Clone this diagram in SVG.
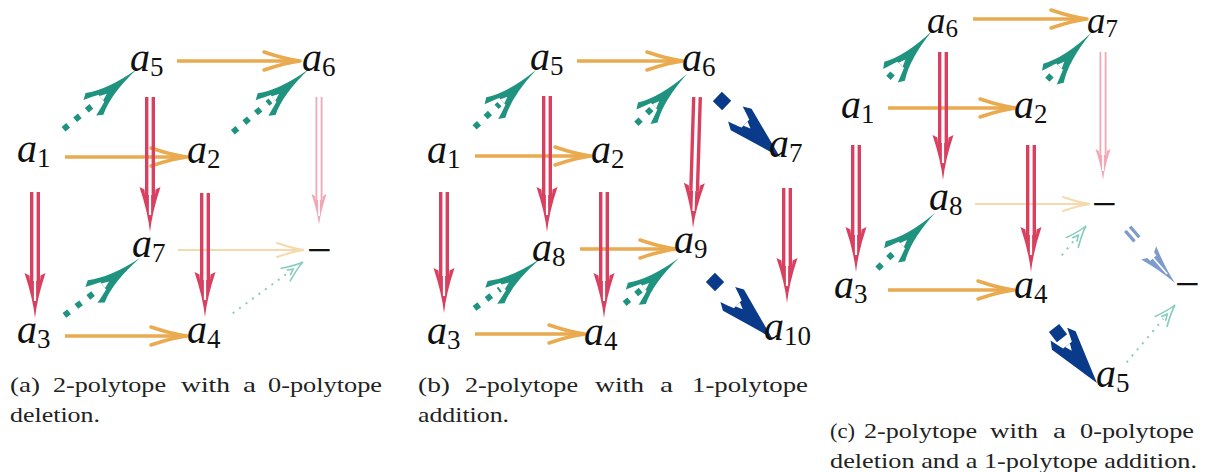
<svg xmlns="http://www.w3.org/2000/svg" xmlns:xlink="http://www.w3.org/1999/xlink" width="1207" height="472" viewBox="0 0 1207 472">
<style>
.o{stroke:#E9AA50;stroke-width:3.5;fill:none}
.lo{stroke:#F7D9AE;stroke-width:2;fill:none}
.r{stroke:#D94060;stroke-width:3.4;fill:none}
.p{stroke:#F2A7B6;stroke-width:1.8;fill:none}
.t{stroke:#1F937F;stroke-width:6;stroke-dasharray:6 9;fill:none}
.lt{stroke:#86CDBE;stroke-width:2;stroke-dasharray:2 6;fill:none}
.lb{stroke:#7F9BCC;stroke-width:3.2;fill:none}
.bsq{fill:#0A3A8A}
.m{font-style:italic;font-size:40px;fill:#111}
.mt{font-style:italic;font-size:37px;fill:#111}
.s{font-style:normal;font-size:27px}
.st{font-style:normal;font-size:25px}
.d{font-size:44px;fill:#111}
.cap{font-size:22px;fill:#222}
</style>
<defs>
<g id="hO"><path d="M-36,-9 Q-14,-1.6 0,0 Q-14,1.6 -36,9" fill="none" stroke="#E9AA50" stroke-width="3.5" stroke-linecap="round" stroke-linejoin="round"/></g>
<g id="hLO"><path d="M-27,-7 Q-10,-1.2 0,0 Q-10,1.2 -27,7" fill="none" stroke="#F7D9AE" stroke-width="2" stroke-linecap="round"/></g>
<g id="hR"><path d="M0,0 Q-20,-2.2 -45,-10.5 L-42.5,-5.5 L-37,-5 L-37,5 L-42.5,5.5 L-45,10.5 Q-20,2.2 0,0 Z" fill="#D94060"/><path d="M-41,0 L-17,0" stroke="#fff" stroke-width="2.2"/></g>
<g id="hP"><path d="M0,0 Q-13,-1.6 -31,-7.5 L-29,-4 L-25,-3.5 L-25,3.5 L-29,4 L-31,7.5 Q-13,1.6 0,0 Z" fill="#F2A7B6"/><path d="M-29,0 L-9,0" stroke="#fff" stroke-width="1.8"/></g>
<g id="hT"><path d="M0,0 Q-36,-2.5 -55,-14 L-61,-10 Q-51,-6.5 -46,-4.5 L-46,4.5 Q-51,6.5 -61,10 L-55,14 Q-36,2.5 0,0 Z" fill="#1F937F"/><path d="M-39,0 L-46,-2.8 L-46,2.8 Z" fill="#fff"/></g>
<g id="hB"><path d="M0,0 Q-22,-6 -54,-15 L-62,-10.5 Q-53,-7.5 -48,-5.5 L-48,5.5 Q-53,7.5 -62,10.5 L-54,15 Q-22,6 0,0 Z" fill="#0A3A8A"/><path d="M-41,0 L-48,-3 L-48,3 Z" fill="#fff"/></g>
<g id="hLT"><path d="M-22,-8 Q-8,-1.5 0,0 Q-8,1.5 -22,8 M-18,-3 L-12,0 L-18,3" fill="none" stroke="#86CDBE" stroke-width="1.6"/></g>
<g id="hLB"><path d="M0,0 Q-18,-2.5 -40,-10 L-37,-4.5 L-33,-4 L-33,4 L-37,4.5 L-40,10 Q-18,2.5 0,0 Z" fill="#7F9BCC"/><path d="M-38,0 L-12,0" stroke="#fff" stroke-width="1.6"/></g>
</defs>

<g id="connectors">
<line class="o" x1="65" y1="157" x2="186" y2="157"/><use xlink:href="#hO" x="187" y="157"/>
<line class="o" x1="177" y1="61" x2="299" y2="61"/><use xlink:href="#hO" x="300" y="61"/>
<line class="o" x1="65" y1="336" x2="186" y2="336"/><use xlink:href="#hO" x="187" y="336"/>
<line class="lo" x1="178" y1="250" x2="303" y2="250"/><use xlink:href="#hLO" x="304" y="250"/>
<g transform="translate(150,232) rotate(90)"><line class="r" x1="-135" y1="-3.3" x2="-37" y2="-3.3"/><line class="r" x1="-135" y1="3.3" x2="-37" y2="3.3"/><use xlink:href="#hR"/></g>
<g transform="translate(35,318) rotate(90)"><line class="r" x1="-126" y1="-3.3" x2="-37" y2="-3.3"/><line class="r" x1="-126" y1="3.3" x2="-37" y2="3.3"/><use xlink:href="#hR"/></g>
<g transform="translate(205,317) rotate(90)"><line class="r" x1="-124" y1="-3.3" x2="-37" y2="-3.3"/><line class="r" x1="-124" y1="3.3" x2="-37" y2="3.3"/><use xlink:href="#hR"/></g>
<g transform="translate(319,225) rotate(90)"><line class="p" x1="-128" y1="-2.6" x2="-25" y2="-2.6"/><line class="p" x1="-128" y1="2.6" x2="-25" y2="2.6"/><use xlink:href="#hP"/></g>
<g transform="translate(137,69) rotate(-39.33)"><line class="t" x1="-95" y1="0" x2="-50" y2="0"/><use xlink:href="#hT"/></g>
<g transform="translate(309,69) rotate(-39.66)"><line class="t" x1="-99" y1="0" x2="-50" y2="0"/><use xlink:href="#hT"/></g>
<g transform="translate(140,258) rotate(-37.23)"><line class="t" x1="-95" y1="0" x2="-50" y2="0"/><use xlink:href="#hT"/></g>
<g transform="translate(303,262) rotate(-36.08)"><line class="lt" x1="-87" y1="0" x2="-18" y2="0"/><use xlink:href="#hLT"/></g>
<line class="o" x1="577" y1="61" x2="682" y2="61"/><use xlink:href="#hO" x="683" y="61"/>
<line class="o" x1="475" y1="156" x2="590" y2="156"/><use xlink:href="#hO" x="591" y="156"/>
<line class="o" x1="580" y1="249" x2="675" y2="249"/><use xlink:href="#hO" x="676" y="249"/>
<line class="o" x1="475" y1="334" x2="584" y2="334"/><use xlink:href="#hO" x="585" y="334"/>
<g transform="translate(547,232) rotate(90)"><line class="r" x1="-136" y1="-3.3" x2="-37" y2="-3.3"/><line class="r" x1="-136" y1="3.3" x2="-37" y2="3.3"/><use xlink:href="#hR"/></g>
<g transform="translate(444,313) rotate(90)"><line class="r" x1="-121" y1="-3.3" x2="-37" y2="-3.3"/><line class="r" x1="-121" y1="3.3" x2="-37" y2="3.3"/><use xlink:href="#hR"/></g>
<g transform="translate(604,318) rotate(90)"><line class="r" x1="-126" y1="-3.3" x2="-37" y2="-3.3"/><line class="r" x1="-126" y1="3.3" x2="-37" y2="3.3"/><use xlink:href="#hR"/></g>
<g transform="translate(693,228) rotate(91.75)"><line class="r" x1="-131" y1="-3.3" x2="-37" y2="-3.3"/><line class="r" x1="-131" y1="3.3" x2="-37" y2="3.3"/><use xlink:href="#hR"/></g>
<g transform="translate(787,303) rotate(90)"><line class="r" x1="-115" y1="-3.3" x2="-37" y2="-3.3"/><line class="r" x1="-115" y1="3.3" x2="-37" y2="3.3"/><use xlink:href="#hR"/></g>
<g transform="translate(536,70) rotate(-43.06)"><line class="t" x1="-84" y1="0" x2="-50" y2="0"/><use xlink:href="#hT"/></g>
<g transform="translate(687,74) rotate(-44.48)"><line class="t" x1="-71" y1="0" x2="-50" y2="0"/><use xlink:href="#hT"/></g>
<g transform="translate(540,259) rotate(-37)"><line class="t" x1="-82" y1="0" x2="-50" y2="0"/><use xlink:href="#hT"/></g>
<g transform="translate(679,258) rotate(-40)"><line class="t" x1="-71" y1="0" x2="-50" y2="0"/><use xlink:href="#hT"/></g>
<g transform="translate(780,157) rotate(43.99)"><rect class="bsq" x="-87.1" y="-6.5" width="13" height="13"/><use xlink:href="#hB"/></g>
<g transform="translate(772,338) rotate(44.49)"><rect class="bsq" x="-86.4" y="-6.5" width="13" height="13"/><use xlink:href="#hB"/></g>
<line class="o" x1="973" y1="19" x2="1086" y2="19"/><use xlink:href="#hO" x="1087" y="19"/>
<line class="o" x1="888" y1="108" x2="1015" y2="108"/><use xlink:href="#hO" x="1016" y="108"/>
<line class="o" x1="888" y1="290" x2="1013" y2="290"/><use xlink:href="#hO" x="1014" y="290"/>
<line class="lo" x1="975" y1="204" x2="1089" y2="204"/><use xlink:href="#hLO" x="1090" y="204"/>
<g transform="translate(943,180) rotate(90)"><line class="r" x1="-128" y1="-3.3" x2="-37" y2="-3.3"/><line class="r" x1="-128" y1="3.3" x2="-37" y2="3.3"/><use xlink:href="#hR"/></g>
<g transform="translate(856,272) rotate(90)"><line class="r" x1="-127" y1="-3.3" x2="-37" y2="-3.3"/><line class="r" x1="-127" y1="3.3" x2="-37" y2="3.3"/><use xlink:href="#hR"/></g>
<g transform="translate(1031,272) rotate(90)"><line class="r" x1="-127" y1="-3.3" x2="-37" y2="-3.3"/><line class="r" x1="-127" y1="3.3" x2="-37" y2="3.3"/><use xlink:href="#hR"/></g>
<g transform="translate(1103,180) rotate(90)"><line class="p" x1="-128" y1="-2.6" x2="-25" y2="-2.6"/><line class="p" x1="-128" y1="2.6" x2="-25" y2="2.6"/><use xlink:href="#hP"/></g>
<g transform="translate(932,31) rotate(-47.12)"><line class="t" x1="-64" y1="0" x2="-50" y2="0"/><use xlink:href="#hT"/></g>
<g transform="translate(1091,33) rotate(-47)"><line class="t" x1="-64" y1="0" x2="-50" y2="0"/><use xlink:href="#hT"/></g>
<g transform="translate(935,213) rotate(-44)"><line class="t" x1="-80" y1="0" x2="-50" y2="0"/><use xlink:href="#hT"/></g>
<g transform="translate(1086,226) rotate(-50.4)"><line class="lt" x1="-38" y1="0" x2="-18" y2="0"/><use xlink:href="#hLT"/></g>
<g transform="translate(1175,305) rotate(-49.9)"><line class="lt" x1="-75" y1="0" x2="-18" y2="0"/><use xlink:href="#hLT"/></g>
<g transform="translate(1175,283) rotate(48.9)"><line class="lb" x1="-72" y1="-3.2" x2="-58" y2="-3.2"/><line class="lb" x1="-72" y1="3.2" x2="-58" y2="3.2"/><use xlink:href="#hLB"/></g>
<g transform="translate(1097,383) rotate(52.05)"><rect class="bsq" x="-69.9" y="-6.5" width="13" height="13"/><use xlink:href="#hB"/></g>
</g>

<g font-family="'Liberation Serif', 'Times New Roman', Times, serif">
<g id="pa-a1"><text class="m" x="17" y="162">a<tspan class="s" dy="5">1</tspan></text></g>
<g id="pa-a2"><text class="m" x="187" y="163">a<tspan class="s" dy="5">2</tspan></text></g>
<g id="pa-a3"><text class="m" x="17" y="343">a<tspan class="s" dy="5">3</tspan></text></g>
<g id="pa-a4"><text class="m" x="187" y="343">a<tspan class="s" dy="5">4</tspan></text></g>
<g id="pa-a5"><text class="m" x="130" y="71">a<tspan class="s" dy="5">5</tspan></text></g>
<g id="pa-a6"><text class="m" x="302" y="71">a<tspan class="s" dy="5">6</tspan></text></g>
<g id="pa-a7"><text class="m" x="132" y="257">a<tspan class="s" dy="5">7</tspan></text></g>
<g id="pa-del"><text class="d" x="307" y="265">−</text></g>

<g id="pb-a1"><text class="m" x="427" y="163">a<tspan class="s" dy="5">1</tspan></text></g>
<g id="pb-a2"><text class="m" x="591" y="163">a<tspan class="s" dy="5">2</tspan></text></g>
<g id="pb-a3"><text class="m" x="427" y="344">a<tspan class="s" dy="5">3</tspan></text></g>
<g id="pb-a4"><text class="m" x="584" y="345">a<tspan class="s" dy="5">4</tspan></text></g>
<g id="pb-a5"><text class="m" x="530" y="70">a<tspan class="s" dy="5">5</tspan></text></g>
<g id="pb-a6"><text class="m" x="682" y="71">a<tspan class="s" dy="5">6</tspan></text></g>
<g id="pb-a7"><text class="m" x="769" y="157">a<tspan class="s" dy="5">7</tspan></text></g>
<g id="pb-a8"><text class="m" x="532" y="261">a<tspan class="s" dy="5">8</tspan></text></g>
<g id="pb-a9"><text class="m" x="674" y="253">a<tspan class="s" dy="5">9</tspan></text></g>
<g id="pb-a10"><text class="m" x="764" y="340">a<tspan class="s" dy="5">10</tspan></text></g>

<g id="pc-a1"><text class="m" x="841" y="118">a<tspan class="s" dy="5">1</tspan></text></g>
<g id="pc-a2"><text class="m" x="1014" y="118">a<tspan class="s" dy="5">2</tspan></text></g>
<g id="pc-a3"><text class="m" x="834" y="298">a<tspan class="s" dy="5">3</tspan></text></g>
<g id="pc-a4"><text class="m" x="1014" y="298">a<tspan class="s" dy="5">4</tspan></text></g>
<g id="pc-a5"><text class="m" x="1096" y="387">a<tspan class="s" dy="5">5</tspan></text></g>
<g id="pc-a6"><text class="mt" x="927" y="33">a<tspan class="st" dy="4">6</tspan></text></g>
<g id="pc-a7"><text class="mt" x="1087" y="33">a<tspan class="st" dy="4">7</tspan></text></g>
<g id="pc-a8"><text class="m" x="929" y="210">a<tspan class="s" dy="5">8</tspan></text></g>
<g id="pc-del"><text class="d" x="1092" y="219">−</text></g>
<g id="pc-add"><text class="d" x="1175" y="299">−</text></g>

<g id="cap-a" class="cap">
<text x="10" y="392" textLength="30" lengthAdjust="spacingAndGlyphs">(a)</text>
<text x="53" y="392" textLength="113" lengthAdjust="spacingAndGlyphs">2-polytope</text>
<text x="181" y="392" textLength="49" lengthAdjust="spacingAndGlyphs">with</text>
<text x="243" y="392" textLength="13" lengthAdjust="spacingAndGlyphs">a</text>
<text x="268" y="392" textLength="114" lengthAdjust="spacingAndGlyphs">0-polytope</text>
<text x="10" y="422" textLength="90" lengthAdjust="spacingAndGlyphs">deletion.</text>
</g>
<g id="cap-b" class="cap">
<text x="418" y="392" textLength="32" lengthAdjust="spacingAndGlyphs">(b)</text>
<text x="465" y="392" textLength="113" lengthAdjust="spacingAndGlyphs">2-polytope</text>
<text x="595" y="392" textLength="49" lengthAdjust="spacingAndGlyphs">with</text>
<text x="660" y="392" textLength="13" lengthAdjust="spacingAndGlyphs">a</text>
<text x="692" y="392" textLength="116" lengthAdjust="spacingAndGlyphs">1-polytope</text>
<text x="418" y="422" textLength="91" lengthAdjust="spacingAndGlyphs">addition.</text>
</g>
<g id="cap-c" class="cap">
<text x="830" y="438" textLength="25" lengthAdjust="spacingAndGlyphs">(c)</text>
<text x="864" y="438" textLength="113" lengthAdjust="spacingAndGlyphs">2-polytope</text>
<text x="990" y="438" textLength="48" lengthAdjust="spacingAndGlyphs">with</text>
<text x="1053" y="438" textLength="13" lengthAdjust="spacingAndGlyphs">a</text>
<text x="1080" y="438" textLength="114" lengthAdjust="spacingAndGlyphs">0-polytope</text>
<text x="830" y="468" textLength="367" lengthAdjust="spacingAndGlyphs">deletion and a 1-polytope addition.</text>
</g>
</g>
</svg>
